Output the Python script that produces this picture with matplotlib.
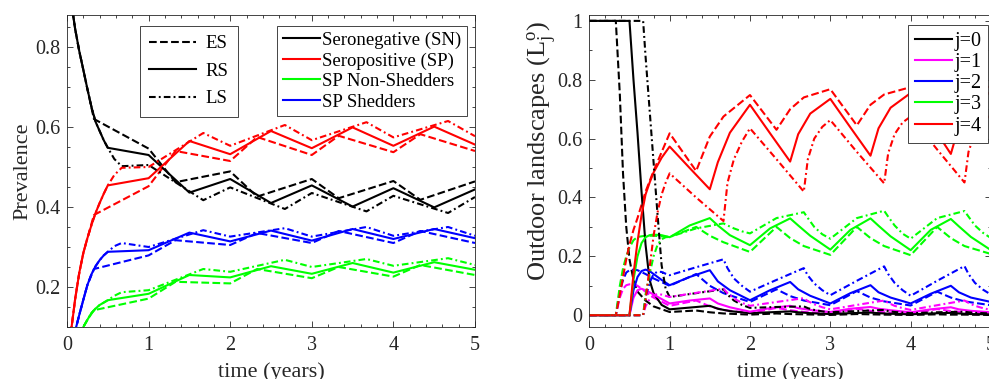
import matplotlib
matplotlib.use('Agg')
import matplotlib.pyplot as plt
from matplotlib.lines import Line2D
from matplotlib.ticker import MultipleLocator, FuncFormatter

plt.rcParams['font.family'] = ['Liberation Serif', 'DejaVu Serif']
plt.rcParams['mathtext.fontset'] = 'custom'
plt.rcParams['mathtext.rm'] = 'Liberation Serif'
plt.rcParams['mathtext.it'] = 'Liberation Serif:italic'

# ---- left panel: prevalence (ES / RS / LS breeding seasons) ----
t_es = [0, 0.05, 0.1, 0.15, 0.2, 0.25, 0.33, 1.0, 1.33, 2.0, 2.33, 3.0, 3.33, 4.0, 4.33, 5.0]
sn_es = [1.0, 0.915, 0.845, 0.79, 0.743, 0.695, 0.62, 0.546, 0.462, 0.489, 0.426, 0.47, 0.422, 0.465, 0.418, 0.464]
sp_es = [0, 0.09, 0.17, 0.235, 0.285, 0.322, 0.38, 0.452, 0.54, 0.515, 0.575, 0.53, 0.578, 0.537, 0.582, 0.54]
ns_es = [0, 0.03, 0.058, 0.08, 0.1, 0.118, 0.142, 0.171, 0.213, 0.209, 0.245, 0.222, 0.25, 0.226, 0.255, 0.23]
sh_es = [0, 0.045, 0.09, 0.13, 0.168, 0.205, 0.245, 0.279, 0.317, 0.305, 0.335, 0.31, 0.34, 0.31, 0.34, 0.31]

t_rs = [0, 0.05, 0.1, 0.15, 0.2, 0.25, 0.3, 0.35, 0.4, 0.45, 0.5, 1.0, 1.5, 2.0, 2.5, 3.0, 3.5, 4.0, 4.5, 5.0]
sn_rs = [1.0, 0.915, 0.845, 0.79, 0.743, 0.695, 0.65, 0.613, 0.59, 0.567, 0.548, 0.53, 0.436, 0.47, 0.41, 0.454, 0.401, 0.447, 0.399, 0.444]
sp_rs = [0, 0.09, 0.17, 0.235, 0.285, 0.322, 0.355, 0.385, 0.41, 0.433, 0.454, 0.472, 0.565, 0.532, 0.59, 0.547, 0.599, 0.553, 0.601, 0.556]
ns_rs = [0, 0.03, 0.058, 0.08, 0.1, 0.118, 0.135, 0.146, 0.155, 0.161, 0.167, 0.183, 0.23, 0.224, 0.252, 0.233, 0.26, 0.236, 0.262, 0.243]
sh_rs = [0, 0.045, 0.09, 0.13, 0.168, 0.205, 0.232, 0.252, 0.267, 0.279, 0.288, 0.292, 0.336, 0.314, 0.341, 0.316, 0.345, 0.32, 0.345, 0.322]

t_ls = [0, 0.05, 0.1, 0.15, 0.2, 0.25, 0.3, 0.35, 0.4, 0.45, 0.5, 0.58, 0.67, 1.0, 1.67, 2.0, 2.67, 3.0, 3.67, 4.0, 4.67, 5.0]
sn_ls = [1.0, 0.915, 0.845, 0.79, 0.743, 0.695, 0.65, 0.613, 0.59, 0.567, 0.548, 0.52, 0.502, 0.505, 0.417, 0.449, 0.395, 0.435, 0.389, 0.428, 0.385, 0.425]
sp_ls = [0, 0.09, 0.17, 0.235, 0.285, 0.322, 0.355, 0.385, 0.41, 0.433, 0.454, 0.48, 0.498, 0.50, 0.585, 0.553, 0.605, 0.567, 0.612, 0.574, 0.615, 0.577]
ns_ls = [0, 0.03, 0.058, 0.08, 0.1, 0.118, 0.135, 0.146, 0.155, 0.161, 0.167, 0.178, 0.187, 0.192, 0.245, 0.238, 0.268, 0.25, 0.27, 0.253, 0.272, 0.255]
sh_ls = [0, 0.045, 0.09, 0.13, 0.168, 0.205, 0.232, 0.252, 0.267, 0.279, 0.288, 0.302, 0.31, 0.30, 0.342, 0.326, 0.347, 0.326, 0.35, 0.328, 0.35, 0.328]

# ---- right panel: outdoor landscapes L_j^o ----
tr_es = [0, 0.33, 0.38, 0.42, 0.46, 0.5, 0.55, 0.6, 0.7, 0.8, 1.0, 1.33, 1.5, 1.67, 2.0, 2.33, 2.5, 2.67, 3.0,
         3.33, 3.5, 3.67, 4.0, 4.33, 4.5, 4.67, 5.0]
j0_es = [1, 1, 0.75, 0.48, 0.3, 0.19, 0.12, 0.08, 0.05, 0.03, 0.011, 0.016, 0.01, 0.006, 0.002, 0.006, 0.004, 0.003,
         0.001, 0.004, 0.003, 0.002, 0.001, 0.003, 0.002, 0.002, 0.001]
j1_es = [0, 0, 0.06, 0.09, 0.102, 0.105, 0.105, 0.1, 0.08, 0.06, 0.032, 0.05, 0.03, 0.018, 0.007, 0.025, 0.017, 0.011,
         0.005, 0.022, 0.015, 0.01, 0.005, 0.021, 0.014, 0.01, 0.005]
j2_es = [0, 0, 0.08, 0.12, 0.145, 0.153, 0.155, 0.153, 0.14, 0.125, 0.1, 0.14, 0.1, 0.075, 0.045, 0.088, 0.065, 0.05,
         0.034, 0.082, 0.06, 0.047, 0.033, 0.08, 0.06, 0.047, 0.034]
j3_es = [0, 0, 0.1, 0.16, 0.2, 0.23, 0.255, 0.266, 0.27, 0.27, 0.266, 0.30, 0.27, 0.248, 0.215, 0.30, 0.262, 0.235,
         0.205, 0.30, 0.262, 0.235, 0.204, 0.30, 0.262, 0.235, 0.208]
j4_es = [0, 0, 0.07, 0.13, 0.19, 0.24, 0.29, 0.33, 0.42, 0.49, 0.618, 0.49, 0.607, 0.675, 0.748, 0.63, 0.7, 0.74,
         0.768, 0.645, 0.715, 0.75, 0.775, 0.65, 0.72, 0.755, 0.778]

tr_rs = [0, 0.5, 0.55, 0.6, 0.65, 0.7, 0.75, 0.8, 0.9, 1.0, 1.25, 1.5, 1.6, 1.75, 2.0, 2.25, 2.5, 2.6, 2.75, 3.0,
         3.25, 3.5, 3.6, 3.75, 4.0, 4.25, 4.5, 4.6, 4.75, 5.0]
j0_rs = [1, 1, 0.8, 0.62, 0.42, 0.24, 0.12, 0.075, 0.035, 0.02, 0.026, 0.032, 0.022, 0.014, 0.007, 0.01, 0.013, 0.01,
         0.007, 0.004, 0.007, 0.009, 0.007, 0.005, 0.003, 0.006, 0.008, 0.006, 0.004, 0.003]
j1_rs = [0, 0, 0.06, 0.085, 0.09, 0.085, 0.078, 0.07, 0.055, 0.04, 0.05, 0.057, 0.04, 0.027, 0.012, 0.024, 0.032,
         0.024, 0.018, 0.011, 0.022, 0.028, 0.022, 0.017, 0.01, 0.02, 0.027, 0.02, 0.015, 0.01]
j2_rs = [0, 0, 0.085, 0.13, 0.15, 0.155, 0.15, 0.14, 0.12, 0.102, 0.13, 0.153, 0.115, 0.085, 0.051, 0.085, 0.113,
         0.088, 0.066, 0.04, 0.075, 0.102, 0.078, 0.06, 0.04, 0.073, 0.1, 0.078, 0.06, 0.045]
j3_rs = [0, 0, 0.12, 0.2, 0.245, 0.265, 0.272, 0.274, 0.272, 0.265, 0.305, 0.33, 0.305, 0.272, 0.238, 0.295, 0.329,
         0.305, 0.27, 0.223, 0.29, 0.329, 0.304, 0.268, 0.221, 0.29, 0.327, 0.302, 0.266, 0.221]
j4_rs = [0, 0, 0.14, 0.25, 0.34, 0.41, 0.45, 0.485, 0.535, 0.573, 0.5, 0.428, 0.52, 0.62, 0.715, 0.618, 0.522, 0.615,
         0.685, 0.735, 0.638, 0.542, 0.635, 0.705, 0.755, 0.652, 0.548, 0.642, 0.71, 0.76]

tr_ls = [0, 0.67, 0.7, 0.75, 0.8, 0.85, 0.9, 0.95, 1.0, 1.33, 1.67, 1.72, 1.8, 1.9, 2.0, 2.33, 2.67, 2.72, 2.8, 2.9,
         3.0, 3.33, 3.67, 3.72, 3.8, 3.9, 4.0, 4.33, 4.67, 4.72, 4.8, 4.9, 5.0]
j0_ls = [1, 1, 0.88, 0.7, 0.52, 0.34, 0.17, 0.09, 0.062, 0.075, 0.088, 0.07, 0.05, 0.035, 0.025, 0.028, 0.03, 0.024,
         0.018, 0.013, 0.01, 0.014, 0.018, 0.014, 0.011, 0.009, 0.007, 0.01, 0.012, 0.01, 0.008, 0.007, 0.006]
j1_ls = [0, 0, 0.03, 0.055, 0.068, 0.072, 0.07, 0.066, 0.062, 0.076, 0.09, 0.075, 0.057, 0.042, 0.032, 0.045, 0.058,
         0.048, 0.037, 0.027, 0.02, 0.035, 0.05, 0.042, 0.032, 0.024, 0.018, 0.034, 0.05, 0.042, 0.032, 0.024, 0.018]
j2_ls = [0, 0, 0.06, 0.11, 0.14, 0.148, 0.147, 0.141, 0.136, 0.163, 0.19, 0.16, 0.125, 0.1, 0.08, 0.12, 0.16, 0.135,
         0.108, 0.085, 0.068, 0.117, 0.166, 0.14, 0.11, 0.085, 0.066, 0.117, 0.167, 0.14, 0.11, 0.087, 0.07]
j3_ls = [0, 0, 0.07, 0.14, 0.2, 0.24, 0.258, 0.265, 0.266, 0.295, 0.312, 0.305, 0.295, 0.285, 0.278, 0.33, 0.35,
         0.33, 0.3, 0.275, 0.26, 0.33, 0.355, 0.335, 0.305, 0.277, 0.26, 0.33, 0.354, 0.335, 0.305, 0.28, 0.262]
j4_ls = [0, 0, 0.05, 0.16, 0.27, 0.35, 0.41, 0.45, 0.482, 0.40, 0.32, 0.45, 0.53, 0.59, 0.635, 0.53, 0.42, 0.53, 0.6,
         0.64, 0.663, 0.555, 0.448, 0.55, 0.615, 0.655, 0.675, 0.563, 0.451, 0.555, 0.62, 0.66, 0.68]

scen_labels = ['ES', 'RS', 'LS']
prev_labels = ['Seronegative (SN)', 'Seropositive (SP)', 'SP Non-Shedders', 'SP Shedders']
land_labels = ['j=0', 'j=1', 'j=2', 'j=3', 'j=4']

GREY = '0.15'
GREEN = (0, 1, 0)
DASHDOT = (0, (3.2, 1.5, 0.9, 1.5))
styles = ['--', '-', DASHDOT]
prev_colors = ['k', 'r', GREEN, 'b']
land_colors = ['k', (1, 0, 1), 'b', GREEN, 'r']
LW = 1.5

fig = plt.figure(figsize=(9.89, 3.79), dpi=100)
ax1 = fig.add_axes([67 / 989, 52 / 379, 408 / 989, 312 / 379])
ax2 = fig.add_axes([589.3 / 989, 52 / 379, 401.7 / 989, 312 / 379])

left_sets = [(t_es, [sn_es, sp_es, ns_es, sh_es]),
             (t_rs, [sn_rs, sp_rs, ns_rs, sh_rs]),
             (t_ls, [sn_ls, sp_ls, ns_ls, sh_ls])]
for (t, series), ls in zip(left_sets, styles):
    for y, c in zip(series, prev_colors):
        ax1.plot(t, y, color=c, linestyle=ls, lw=LW)

right_sets = [(tr_es, [j0_es, j1_es, j2_es, j3_es, j4_es]),
              (tr_rs, [j0_rs, j1_rs, j2_rs, j3_rs, j4_rs]),
              (tr_ls, [j0_ls, j1_ls, j2_ls, j3_ls, j4_ls])]
for (t, series), ls in zip(right_sets, styles):
    for y, c in zip(series, land_colors):
        ax2.plot(t, y, color=c, linestyle=ls, lw=LW)

fmt = FuncFormatter(lambda v, p: '%g' % round(v, 3) if abs(v) > 1e-9 else '0')
for ax in (ax1, ax2):
    ax.set_xlim(0, 5)
    ax.xaxis.set_major_locator(MultipleLocator(1))
    ax.xaxis.set_minor_locator(MultipleLocator(0.2))
    ax.xaxis.set_major_formatter(fmt)
    ax.yaxis.set_major_formatter(fmt)
    ax.tick_params(which='both', direction='in', top=True, right=True, colors=GREY,
                   labelsize=14.5, width=0.6)
    ax.tick_params(which='major', length=4.5)
    ax.tick_params(which='minor', length=2.5)
    ax.tick_params(axis='x', pad=6.5)
    ax.tick_params(axis='y', pad=5)
    for s in ax.spines.values():
        s.set_color(GREY)
        s.set_linewidth(0.6)
    ax.set_xlabel('time (years)', fontsize=16, color=GREY)
    ax.xaxis.set_label_coords(0.5, -0.112)

ax1.set_ylim(0.1, 0.88)
ax1.yaxis.set_major_locator(MultipleLocator(0.2))
ax1.yaxis.set_minor_locator(MultipleLocator(0.05))
ax1.set_ylabel('Prevalence', fontsize=16, color=GREY)
ax1.yaxis.set_label_coords(-0.085, 0.5)

ax2.set_ylim(-0.04, 1.02)
ax2.yaxis.set_major_locator(MultipleLocator(0.2))
ax2.yaxis.set_minor_locator(MultipleLocator(0.1))
ax2.set_ylabel(r'Outdoor landscapes (L$_{\mathregular{j}}^{\mathregular{o}}$)', fontsize=19, color=GREY)
ax2.yaxis.set_label_coords(-0.078, 0.565)

leg_kw = dict(frameon=True, fancybox=False, framealpha=1, edgecolor=GREY, borderaxespad=0)

h_style = [Line2D([], [], color='k', linestyle=ls, lw=LW) for ls in styles]
leg1 = ax1.legend(h_style, scen_labels, loc='upper left', bbox_to_anchor=(0.179, 0.965), fontsize=13.5,
                  handlelength=2.5, handletextpad=0.5, labelspacing=0.55, borderpad=0.5, **leg_kw)
leg1.get_frame().set_linewidth(0.6)
ax1.add_artist(leg1)

h_prev = [Line2D([], [], color=c, lw=LW) for c in prev_colors]
leg2 = ax1.legend(h_prev, prev_labels, loc='upper left', bbox_to_anchor=(0.515, 0.965), fontsize=13.5,
                  handlelength=2.0, handletextpad=0.1, labelspacing=0.18, borderpad=0.3, **leg_kw)
leg2.get_frame().set_linewidth(0.6)

h_land = [Line2D([], [], color=c, lw=LW) for c in land_colors]
leg3 = ax2.legend(h_land, land_labels, loc='upper left', bbox_to_anchor=(0.793, 0.968), fontsize=14.5,
                  handlelength=1.85, handletextpad=0.1, labelspacing=0.1, borderpad=0.35, **leg_kw)
leg3.get_frame().set_linewidth(0.6)

fig.savefig('out.png', dpi=100)
